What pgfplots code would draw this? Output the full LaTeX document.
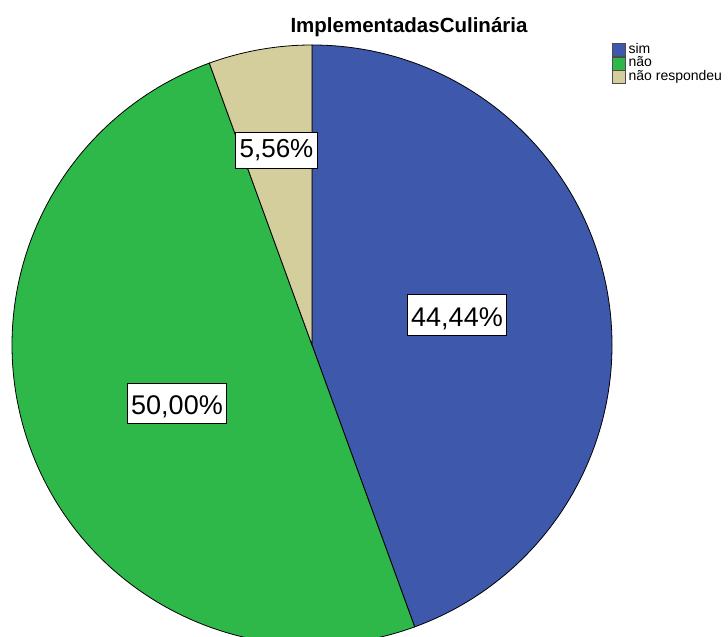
\documentclass[border=0pt]{standalone}
\usepackage{fontspec}
\setmainfont{Liberation Sans}
\usepackage{pgfplots}
\usepackage{pgfplotstable}
\pgfplotsset{compat=1.18}

\definecolor{simblue}{RGB}{62,88,172}
\definecolor{naogreen}{RGB}{46,184,74}
\definecolor{nrbeige}{RGB}{211,206,155}

% percentages of each answer
\pgfplotstableread[col sep=comma]{
label,value
sim,44.44
não,50.00
não respondeu,5.56
}\piedata

\begin{document}
\begin{tikzpicture}
\useasboundingbox (0,0) rectangle (728pt,637pt);
% start angles of the slices, clockwise from the top
\pgfplotstablegetelem{0}{value}\of\piedata \pgfmathsetmacro\va{\pgfplotsretval}
\pgfplotstablegetelem{1}{value}\of\piedata \pgfmathsetmacro\vb{\pgfplotsretval}
\pgfplotstablegetelem{2}{value}\of\piedata \pgfmathsetmacro\vc{\pgfplotsretval}
\pgfmathsetmacro\aZ{90}
\pgfmathsetmacro\aA{\aZ-3.6*\va}
\pgfmathsetmacro\aB{\aA-3.6*\vb}
\pgfmathsetmacro\aC{\aB-3.6*\vc}
\begin{axis}[
    at={(0,0)}, anchor=south west,
    x=1pt, y=1pt,
    xmin=0, xmax=728, ymin=0, ymax=637,
    hide axis,
    clip=true,
    legend style={at={(0.8407,0.9325)}, anchor=north west,
        draw=none, fill=none, inner sep=0pt,
        font=\fontsize{14}{14}\selectfont,
        nodes={inner sep=0pt, text height=10pt, text depth=3pt},
        /tikz/every odd column/.append style={column sep=3pt},
        cells={anchor=west}},
    legend image code/.code={\draw[#1] (0pt,-6.5pt) rectangle (13pt,6.5pt);},
]
\addlegendimage{fill=simblue, draw=black!70}
\addlegendentry{sim}
\addlegendimage{fill=naogreen, draw=black!70}
\addlegendentry{não}
\addlegendimage{fill=nrbeige, draw=black!70}
\addlegendentry{não respondeu}

\fill[simblue, draw=black, line width=0.8pt] (axis cs:312,292) -- ++(\aZ:300pt)
    arc[start angle=\aZ, end angle=\aA, radius=300pt] -- cycle;
\fill[naogreen, draw=black, line width=0.8pt] (axis cs:312,292) -- ++(\aA:300pt)
    arc[start angle=\aA, end angle=\aB, radius=300pt] -- cycle;
\fill[nrbeige, draw=black, line width=0.8pt] (axis cs:312,292) -- ++(\aB:300pt)
    arc[start angle=\aB, end angle=\aC, radius=300pt] -- cycle;

\node[draw=black, fill=white, line width=0.8pt, anchor=base,
      font=\fontsize{27}{27}\selectfont, inner xsep=4pt, inner ysep=4pt,
      text height=29pt, text depth=4pt] at (axis cs:457,310) {44,44\%};
\node[draw=black, fill=white, line width=0.8pt, anchor=base,
      font=\fontsize{27}{27}\selectfont, inner xsep=4pt, inner ysep=4pt,
      text height=28pt, text depth=4pt] at (axis cs:177,222) {50,00\%};
\node[draw=black, fill=white, line width=0.8pt, anchor=base,
      font=\fontsize{26}{26}\selectfont, inner xsep=4pt, inner ysep=4pt,
      text height=22pt, text depth=6pt] at (axis cs:276.5,479) {5,56\%};

\node[font=\bfseries\fontsize{20.5}{20.5}\selectfont] at (axis cs:409,610) {ImplementadasCulinária};
\end{axis}
\end{tikzpicture}
\end{document}
